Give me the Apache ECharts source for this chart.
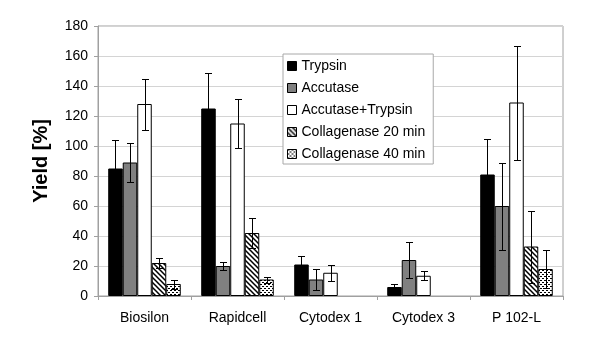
<!DOCTYPE html>
<html>
<head>
<meta charset="utf-8">
<script src="https://cdn.jsdelivr.net/npm/echarts@6/dist/echarts.min.js"></script>
<style>
    html, body { margin: 0; padding: 0; background: #fff; }
    #chart { width: 600px; height: 352px; }
</style>
</head>
<body>
<div id="chart"></div>
<script>
const categories = ['Biosilon', 'Rapidcell', 'Cytodex 1', 'Cytodex 3', 'P 102-L'];
const seriesNames = ['Trypsin', 'Accutase', 'Accutase+Trypsin', 'Collagenase 20 min', 'Collagenase 40 min'];

const trypsin = [85, 125, 21, 6, 81];
const accutase = [89, 20, 11, 24, 60];
const accutaseTrypsin = [128, 115, 15.5, 13.5, 129];
const collagenase20 = [22, 42, 0, 0, 33];
const collagenase40 = [8, 11, 0, 0, 18];

const trypsinErr = [19, 24, 6, 2, 24];
const accutaseErr = [13, 2.5, 7, 12, 29];
const accutaseTrypsinErr = [17, 16.5, 5.5, 3, 38];
const collagenase20Err = [3.5, 10, 0, 0, 24];
const collagenase40Err = [3, 2, 0, 0, 12.5];

const yTicks = [0, 20, 40, 60, 80, 100, 120, 140, 160, 180];

const FONT = 'Liberation Sans, Arial, sans-serif';

function hatchPattern() {
    const c = document.createElement('canvas');
    c.width = 5;
    c.height = 5;
    const ctx = c.getContext('2d');
    ctx.fillStyle = '#fff';
    ctx.fillRect(0, 0, 5, 5);
    ctx.strokeStyle = '#000';
    ctx.lineWidth = 1.5;
    ctx.beginPath();
    ctx.moveTo(-1, -1);
    ctx.lineTo(6, 6);
    ctx.moveTo(-4, 1);
    ctx.lineTo(4, 9);
    ctx.moveTo(1, -4);
    ctx.lineTo(9, 4);
    ctx.stroke();
    return c;
}

function dotPattern() {
    const c = document.createElement('canvas');
    c.width = 4;
    c.height = 4;
    const ctx = c.getContext('2d');
    ctx.fillStyle = '#fff';
    ctx.fillRect(0, 0, 4, 4);
    ctx.fillStyle = '#000';
    ctx.fillRect(0, 0, 2, 1);
    ctx.fillRect(2, 2, 2, 1);
    return c;
}

const values = [trypsin, accutase, accutaseTrypsin, collagenase20, collagenase40];
const errors = [trypsinErr, accutaseErr, accutaseTrypsinErr, collagenase20Err, collagenase40Err];
const fills = [
    '#000000',
    '#808080',
    '#ffffff',
    { image: hatchPattern(), repeat: 'repeat' },
    { image: dotPattern(), repeat: 'repeat' },
];

const categoryGap = 0.22;

const barSeries = values.map((data, i) => ({
    name: seriesNames[i],
    type: 'bar',
    // a zero bar would otherwise show as a flat outline
    data: data.map((v) => (v > 0 ? v : { value: v, itemStyle: { borderWidth: 0 } })),
    barGap: '0%',
    barCategoryGap: (categoryGap * 100) + '%',
    itemStyle: {
        color: fills[i],
        borderColor: '#000',
        borderWidth: 1,
    },
    emphasis: { disabled: true },
    z: 2,
}));

const errorData = [];
values.forEach((data, s) => {
    data.forEach((v, c) => {
        if (errors[s][c] > 0) {
            errorData.push([c, v, errors[s][c], s]);
        }
    });
});

const errorSeries = {
    type: 'custom',
    data: errorData,
    z: 5,
    silent: true,
    encode: { x: 0, y: 1 },
    renderItem(params, api) {
        const c = api.value(0);
        const v = api.value(1);
        const e = api.value(2);
        const s = api.value(3);
        const band = api.size([1, 0])[0];
        const barWidth = band * (1 - categoryGap) / values.length;
        const center = api.coord([c, v]);
        const x = Math.round(center[0] + (s - (values.length - 1) / 2) * barWidth) + 0.5;
        const top = Math.round(api.coord([c, v + e])[1]) + 0.5;
        const bottom = Math.round(api.coord([c, Math.max(0, v - e)])[1]) + 0.5;
        const cap = 3.5;
        const style = { stroke: '#000', lineWidth: 1 };
        return {
            type: 'group',
            children: [
                { type: 'line', shape: { x1: x, y1: top, x2: x, y2: bottom }, style },
                { type: 'line', shape: { x1: x - cap, y1: top, x2: x + cap, y2: top }, style },
                { type: 'line', shape: { x1: x - cap, y1: bottom, x2: x + cap, y2: bottom }, style },
            ],
        };
    },
};

const chart = echarts.init(document.getElementById('chart'), null, { renderer: 'canvas' });

chart.setOption({
    animation: false,
    backgroundColor: '#fff',
    textStyle: { fontFamily: FONT },
    grid: {
        left: 98,
        right: 37,
        top: 26,
        bottom: 56,
        show: true,
        borderColor: '#a0a0a0',
        borderWidth: 1,
    },
    legend: {
        orient: 'vertical',
        left: 283,
        top: 54,
        data: seriesNames,
        itemWidth: 9,
        itemHeight: 9,
        itemGap: 8,
        icon: 'rect',
        backgroundColor: '#fff',
        borderColor: '#a8a8a8',
        borderWidth: 1,
        borderRadius: 0,
        padding: [5, 8, 3, 4],
        selectedMode: false,
        textStyle: {
            fontFamily: FONT,
            fontSize: 14,
            color: '#000',
            padding: [0, 0, 0, 0],
        },
        itemStyle: { borderColor: '#000', borderWidth: 1 },
    },
    xAxis: {
        type: 'category',
        data: categories,
        axisLine: { lineStyle: { color: '#a0a0a0' } },
        axisTick: { show: true, length: 4, alignWithLabel: false, lineStyle: { color: '#a0a0a0' } },
        axisLabel: {
            color: '#000',
            fontSize: 14,
            margin: 15,
            fontFamily: FONT,
        },
    },
    yAxis: {
        type: 'value',
        min: yTicks[0],
        max: yTicks[yTicks.length - 1],
        interval: 20,
        name: 'Yield [%]',
        nameLocation: 'middle',
        nameGap: 47,
        nameTextStyle: {
            fontSize: 20,
            fontWeight: 'bold',
            color: '#000',
            fontFamily: FONT,
        },
        axisLine: { show: true, lineStyle: { color: '#a0a0a0' } },
        axisTick: { show: true, length: 4, inside: false, lineStyle: { color: '#a0a0a0' } },
        axisLabel: {
            color: '#000',
            fontSize: 14,
            margin: 10,
            fontFamily: FONT,
        },
        splitLine: { lineStyle: { color: '#d4d4d4', width: 1 } },
    },
    series: [...barSeries, errorSeries],
});
</script>
</body>
</html>
